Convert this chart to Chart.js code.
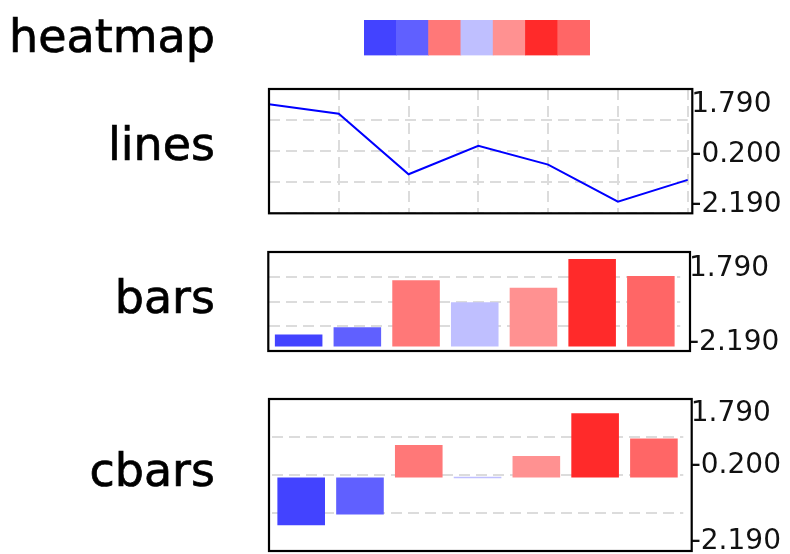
<!DOCTYPE html>
<html><head><meta charset="utf-8">
<script src="https://cdn.jsdelivr.net/npm/chart.js@4.4.1/dist/chart.umd.min.js"></script>
<style>
html,body{margin:0;padding:0;background:#fff;}
#wrap{position:relative;width:790px;height:554px;overflow:hidden;background:#fff;}
canvas{position:absolute;left:0;top:0;}
.lab{position:absolute;left:0;width:215px;text-align:right;font-family:'DejaVu Sans';font-size:46px;line-height:46px;color:#000;white-space:nowrap;-webkit-text-stroke:0.7px #000;}
</style></head><body>
<div id="wrap">
<canvas id="cHeat" width="790" height="554"></canvas>
<canvas id="cLines" width="790" height="554"></canvas>
<canvas id="cBars" width="790" height="554"></canvas>
<canvas id="cCbars" width="790" height="554"></canvas>
<div class="lab" id="l0" style="top:13px"></div>
<div class="lab" id="l1" style="top:121px"></div>
<div class="lab" id="l2" style="top:274px"></div>
<div class="lab" id="l3" style="top:447px"></div>
</div>
<script>
// ---- data ----
const categories = ['1', '2', '3', '4', '5', '6', '7'];
const values = [-1.70, -1.40, 0.54, -0.37, 0.23, 1.42, 0.72];
const MAX_V = 1.79, CENTER_V = -0.2, MIN_V = -2.19;
const CBAR_BASE = -0.37;               // baseline the centred bars grow from
const tickValues = [MAX_V, CENTER_V, MIN_V];
const edgeTickValues = [MAX_V, MIN_V];
const centerTickValues = [CENTER_V];
const panelNames = ['heatmap', 'lines', 'bars', 'cbars'];
// ---- styles ----
const cellColors = ['#4343ff', '#6060ff', '#ff7878', '#bfbfff', '#ff9191', '#ff2a2a', '#ff6666'];
const FONT = 'DejaVu Sans';
const GRID_DIVS = 4;

panelNames.forEach((n, i) => { document.getElementById('l' + i).textContent = n; });

const W = 790, H = 554;

const framePlugin = {
  id: 'frame',
  afterDatasetsDraw(chart, args, opts) {
    if (!opts || !opts.show) return;
    const a = chart.chartArea, ctx = chart.ctx;
    ctx.save();
    ctx.strokeStyle = '#000';
    ctx.lineWidth = 2.2;
    const x0 = a.left - opts.extL, x1 = a.right + opts.extR;
    ctx.strokeRect(x0, a.top, x1 - x0, a.bottom - a.top);
    ctx.restore();
  }
};

// lets a second right-hand axis share the column of the first one
const alignAxesPlugin = {
  id: 'alignAxes',
  afterLayout(chart, args, opts) {
    if (!opts || !opts.ids) return;
    const [first, ...rest] = opts.ids.map(id => chart.scales[id]);
    rest.forEach(s => { s.left = first.left; s.right = first.right; s.width = first.width; });
  }
};

function tickOpts(pad) {
  return { padding: pad, color: '#111', autoSkip: false,
    font: { family: FONT, size: 28 }, callback: v => Number(v).toFixed(3) };
}

// right-hand label axis: max label centred insetTop below the top, min label insetBottom above the bottom
function labelAxis(area, insetTop, insetBottom, ticks, pad, width) {
  const h = area.bottom - area.top;
  const pxu = (h - insetTop - insetBottom) / (MAX_V - MIN_V);
  return {
    type: 'linear', position: 'right',
    min: MIN_V - insetBottom / pxu, max: MAX_V + insetTop / pxu,
    grid: { display: false, drawTicks: false },
    border: { display: false },
    ticks: tickOpts(pad),
    afterBuildTicks: s => { s.ticks = ticks.map(v => ({ value: v })); },
    afterFit: s => { s.width = width; s.paddingTop = 0; s.paddingBottom = 0; }
  };
}

// right-hand axis carrying only the centre label, centred centerPx below the top
function centerLabelAxis(area, centerPx, pad) {
  const h = area.bottom - area.top;
  const pxu = h / (MAX_V - MIN_V);
  return {
    type: 'linear', position: 'right',
    min: CENTER_V - (h - centerPx) / pxu, max: CENTER_V + centerPx / pxu,
    grid: { display: false, drawTicks: false },
    border: { display: false },
    ticks: tickOpts(pad),
    afterBuildTicks: s => { s.ticks = centerTickValues.map(v => ({ value: v })); },
    afterFit: s => { s.width = 0; s.paddingTop = 0; s.paddingBottom = 0; }
  };
}

function dataAxis(min, max, reverse) {
  return {
    type: 'linear', position: 'left', min, max, reverse,
    ticks: { display: false },
    grid: { display: true, color: '#dcdcdc', lineWidth: 2, drawTicks: false },
    border: { display: false, dash: [11, 6] },
    afterBuildTicks: s => {
      const t = [];
      for (let k = 0; k <= GRID_DIVS; k++) t.push({ value: s.min + k * (s.max - s.min) / GRID_DIVS });
      s.ticks = t;
    },
    afterFit: s => { s.width = 0; s.paddingTop = 0; s.paddingBottom = 0; }
  };
}

const common = { responsive: false, animation: false, devicePixelRatio: 1, events: [] };
const noPlug = { legend: { display: false }, tooltip: { enabled: false } };

// ---- heatmap ----
new Chart(document.getElementById('cHeat'), {
  type: 'bar',
  data: { labels: categories, datasets: [{
    data: values.map(() => [0, 1]),
    backgroundColor: cellColors, borderWidth: 0,
    barPercentage: 1, categoryPercentage: 1
  }] },
  options: Object.assign({}, common, {
    layout: { padding: { left: 364, right: W - 590, top: 20, bottom: H - 55.5 } },
    plugins: noPlug,
    scales: { x: { display: false }, y: { display: false, min: 0, max: 1 } }
  })
});

// ---- lines ----
const L = { left: 269, right: 687.7, top: 89, bottom: 213.3 };
new Chart(document.getElementById('cLines'), {
  type: 'line',
  data: { labels: categories, datasets: [{
    data: values, borderColor: '#0000ff', borderWidth: 2, pointRadius: 0,
    tension: 0, fill: false, yAxisID: 'y'
  }] },
  options: Object.assign({}, common, {
    layout: { padding: { left: L.left, right: 0, top: L.top, bottom: H - L.bottom } },
    plugins: Object.assign({ frame: { show: true, extL: 0, extR: 4.6 } }, noPlug),
    scales: {
      x: { type: 'category', display: true, ticks: { display: false },
        grid: { color: '#dcdcdc', lineWidth: 2, drawTicks: false },
        border: { display: false, dash: [11, 6] },
        afterFit: s => { s.height = 0; } },
      y: dataAxis(MIN_V, MAX_V, true),
      yl: labelAxis(L, 16, 8.3, tickValues, 3.6, W - L.right)
    }
  }),
  plugins: [framePlugin]
});

// ---- bars ----
const B = { left: 269.3, right: 680.2, top: 252, bottom: 351 };
new Chart(document.getElementById('cBars'), {
  type: 'bar',
  data: { labels: categories, datasets: [{
    data: values, base: MIN_V, backgroundColor: cellColors, borderWidth: 0,
    barPercentage: 0.81, categoryPercentage: 1, yAxisID: 'y'
  }] },
  options: Object.assign({}, common, {
    layout: { padding: { left: B.left, right: 0, top: B.top, bottom: H - B.bottom } },
    plugins: Object.assign({ frame: { show: true, extL: 1, extR: 9.8 } }, noPlug),
    scales: {
      x: { type: 'category', display: false },
      y: dataAxis(MIN_V - 0.19, MIN_V - 0.19 + 4.09, false),
      yl: labelAxis(B, 16.5, 7.8, edgeTickValues, 8.8, W - B.right)
    }
  }),
  plugins: [framePlugin]
});

// ---- cbars ----
const C = { left: 271.8, right: 683.3, top: 399, bottom: 551 };
new Chart(document.getElementById('cCbars'), {
  type: 'bar',
  data: { labels: categories, datasets: [{
    data: values, base: CBAR_BASE, backgroundColor: cellColors, borderWidth: 0,
    minBarLength: 1.5, barPercentage: 0.81, categoryPercentage: 1, yAxisID: 'y'
  }] },
  options: Object.assign({}, common, {
    layout: { padding: { left: C.left, right: 0, top: C.top, bottom: H - C.bottom } },
    plugins: Object.assign({ frame: { show: true, extL: 2.8, extR: 8.4 },
      alignAxes: { ids: ['yl', 'yc'] } }, noPlug),
    scales: {
      x: { type: 'category', display: false },
      y: dataAxis(CBAR_BASE - 2.05, CBAR_BASE + 2.19, false),
      yl: labelAxis(C, 15, 9.5, edgeTickValues, 7.4, W - C.right),
      yc: centerLabelAxis(C, 67, 7.4)
    }
  }),
  plugins: [framePlugin, alignAxesPlugin]
});
</script>
</body></html>
